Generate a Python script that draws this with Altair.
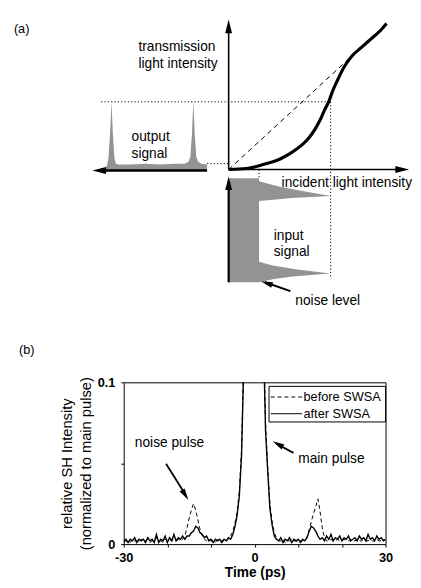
import altair as alt
import pandas as pd

# ---------------- panel (b) data ----------------
time_ps = [
    -30.0, -29.5, -29.0, -28.5, -28.0, -27.5, -27.0, -26.5, -26.0, -25.5,
    -25.0, -24.5, -24.0, -23.5, -23.0, -22.5, -22.0, -21.5, -21.0, -20.5,
    -20.0, -19.5, -19.0, -18.5, -18.0, -17.5, -17.0, -16.5, -16.0, -15.5,
    -15.0, -14.5, -14.0, -13.5, -13.0, -12.5, -12.0, -11.5, -11.0, -10.5,
    -10.0, -9.5, -9.0, -8.5, -8.0, -7.5, -7.0, -6.5, -6.0, -5.5,
    -5.0, -4.5, -4.0, -3.5, -3.0, -2.5, -2.0, -1.5, -1.0, -0.5,
    0.0, 0.5, 1.0, 1.5, 2.0, 2.5, 3.0, 3.5, 4.0, 4.5,
    5.0, 5.5, 6.0, 6.5, 7.0, 7.5, 8.0, 8.5, 9.0, 9.5,
    10.0, 10.5, 11.0, 11.5, 12.0, 12.5, 13.0, 13.5, 14.0, 14.5,
    15.0, 15.5, 16.0, 16.5, 17.0, 17.5, 18.0, 18.5, 19.0, 19.5,
    20.0, 20.5, 21.0, 21.5, 22.0, 22.5, 23.0, 23.5, 24.0, 24.5,
    25.0, 25.5, 26.0, 26.5, 27.0, 27.5, 28.0, 28.5, 29.0, 29.5,
    30.0,
]
after_swsa = [
    0.002, 0.003, 0.001, 0.003, 0.002, 0.004, 0.001, 0.003, 0.002, 0.003,
    0.001, 0.004, 0.002, 0.003, 0.001, 0.006, 0.001, 0.003, 0.002, 0.005,
    0.001, 0.004, 0.002, 0.006, 0.002, 0.004, 0.003, 0.005, 0.003, 0.005,
    0.005, 0.007, 0.008, 0.011, 0.010, 0.007, 0.006, 0.004, 0.005, 0.002,
    0.003, 0.001, 0.003, 0.002, 0.003, 0.001, 0.003, 0.002, 0.004, 0.003,
    0.006, 0.011, 0.018, 0.030, 0.055, 0.110, 0.250, 0.450, 0.700, 0.920,
    1.000, 0.900, 0.650, 0.300, 0.130, 0.070, 0.045, 0.022, 0.012, 0.005,
    0.003, 0.002, 0.004, 0.001, 0.003, 0.002, 0.004, 0.001, 0.003, 0.002,
    0.003, 0.001, 0.003, 0.002, 0.004, 0.008, 0.011, 0.010, 0.008, 0.005,
    0.003, 0.004, 0.002, 0.005, 0.003, 0.006, 0.002, 0.004, 0.003, 0.005,
    0.002, 0.004, 0.003, 0.005, 0.002, 0.003, 0.004, 0.002, 0.005, 0.003,
    0.004, 0.002, 0.006, 0.003, 0.004, 0.002, 0.005, 0.003, 0.004, 0.002,
    0.003,
]
before_swsa = [
    0.001, 0.002, 0.002, 0.001, 0.003, 0.002, 0.002, 0.001, 0.003, 0.002,
    0.002, 0.003, 0.001, 0.002, 0.002, 0.004, 0.002, 0.002, 0.001, 0.003,
    0.002, 0.002, 0.003, 0.002, 0.002, 0.003, 0.002, 0.003, 0.005, 0.010,
    0.016, 0.021, 0.025, 0.021, 0.015, 0.009, 0.005, 0.003, 0.002, 0.003,
    0.002, 0.002, 0.001, 0.003, 0.002, 0.002, 0.003, 0.002, 0.003, 0.005,
    0.008, 0.013, 0.020, 0.033, 0.058, 0.115, 0.260, 0.470, 0.720, 0.930,
    1.000, 0.910, 0.660, 0.310, 0.135, 0.075, 0.048, 0.025, 0.014, 0.007,
    0.004, 0.002, 0.002, 0.003, 0.001, 0.002, 0.002, 0.003, 0.002, 0.002,
    0.001, 0.002, 0.002, 0.003, 0.004, 0.009, 0.014, 0.019, 0.023, 0.028,
    0.020, 0.010, 0.004, 0.002, 0.002, 0.003, 0.002, 0.002, 0.003, 0.002,
    0.002, 0.003, 0.002, 0.002, 0.003, 0.002, 0.002, 0.003, 0.002, 0.002,
    0.003, 0.002, 0.002, 0.003, 0.002, 0.002, 0.003, 0.002, 0.002, 0.003,
    0.002,
]
x_tick_values = [-30, -20, -10, 0, 10, 20, 30]
y_tick_values = [0, 0.05, 0.1]
legend_labels = ["before SWSA", "after SWSA"]

# ---------------- panel (a) schematic data (arbitrary units) ----------------
curve_x = [0, 18, 35, 53, 68, 80, 88, 94, 98, 102, 106, 111, 118, 126, 136, 145, 154, 161]
curve_y = [0, 1, 5, 11, 20, 30, 41, 52, 61, 69, 80, 91, 105, 116, 125, 133, 141, 149]
linear_x = [0, 126]
linear_y = [0, 116]
out_x = [-127, -124, -122.5, -121, -119.5, -118, -116.5, -115, -112, -100, -85, -70,
         -55, -45, -41, -39, -37.5, -36, -34.5, -33, -31, -28, -22]
out_y = [0, 4, 12, 35, 69, 35, 12, 6, 5, 5, 6, 5, 6, 6, 8, 13, 35, 69, 35, 13, 8, 6, 5]
in_t = [-9, -12, -17, -22, -27, -29, -32, -60, -94, -98, -102, -106, -109, -112, -115]
in_v = [31, 31, 50, 75, 104, 65, 31, 31, 31, 45, 70, 104, 65, 45, 31]

FONT = "Liberation Sans"
GRAY = "#939393"

# ================= panel (a) =================
xa = alt.X("x:Q", scale=alt.Scale(domain=[-107, 160], nice=False, zero=False), axis=None)
ya = alt.Y("y:Q", scale=alt.Scale(domain=[-137, 153], nice=False, zero=False), axis=None)

out_df = pd.DataFrame({"x": out_x, "y": out_y, "y2": [-1] * len(out_x)})
output_area = alt.Chart(out_df).mark_area(color=GRAY, orient="vertical").encode(
    x=xa, y=ya, y2="y2:Q")

in_df = pd.DataFrame({"y": in_t, "x": in_v, "x2": [0] * len(in_t)})
input_area = alt.Chart(in_df).mark_area(color=GRAY, orient="horizontal").encode(
    y=ya, x=xa, x2="x2:Q")

dotted_df = pd.DataFrame({
    "x": [-130, 104, -22, 0, 104, 104, 31, 31],
    "y": [69, 69, 6, 6, 69, -109, 0, -10],
    "seg": ["a", "a", "b", "b", "c", "c", "d", "d"],
})
dotted = alt.Chart(dotted_df).mark_line(color="black", strokeWidth=1, strokeDash=[1.2, 2.2]).encode(
    x=xa, y=ya, detail="seg:N")

lin_df = pd.DataFrame({"x": linear_x, "y": linear_y})
linear = alt.Chart(lin_df).mark_line(color="black", strokeWidth=1, strokeDash=[5, 4]).encode(x=xa, y=ya)

curve_df = pd.DataFrame({"x": curve_x, "y": curve_y})
curve = alt.Chart(curve_df).mark_line(color="black", strokeWidth=3.2, interpolate="monotone").encode(
    x=xa, y=ya)

axes_df = pd.DataFrame({
    "x": [0, 0, 0, 178, -22, -133, 0, 0, 63, 37],
    "y": [0, 147, 0, 0, -1, -1, -115, -13, -124, -115],
    "seg": ["up", "up", "right", "right", "left", "left", "in", "in", "noise", "noise"],
    "w": [1.6, 1.6, 1.6, 1.6, 2.6, 2.6, 2.2, 2.2, 2.0, 2.0],
})
axes_lines = alt.Chart(axes_df).mark_line(color="black").encode(
    x=xa, y=ya, detail="seg:N",
    strokeWidth=alt.StrokeWidth("w:Q", scale=None, legend=None))

ARROW = "M0,-1L0.5,1L-0.5,1Z"
heads_df = pd.DataFrame({
    "x": [0, 177, -132, 0, 38.7],
    "y": [146, 0, -1, -14, -115.9],
    "ang": [0, 90, 270, 0, 288.4],
    "sz": [196, 196, 196, 196, 144],
})
heads = alt.Chart(heads_df).mark_point(shape=ARROW, filled=True, color="black", opacity=1).encode(
    x=xa, y=ya,
    angle=alt.Angle("ang:Q", scale=None),
    size=alt.Size("sz:Q", scale=None, legend=None))

text_a_df = pd.DataFrame({
    "x": [-219, -92, -92, -99, -99, 54, 46, 46, 68],
    "y": [143, 125, 108, 33, 16, -14, -68, -84, -134],
    "label": ["(a)", "transmission", "light intensity", "output", "signal",
              "incident light intensity", "input", "signal", "noise level"],
    "fs": [13, 14, 14, 14, 14, 14, 14, 14, 14],
})
text_a = alt.Chart(text_a_df).mark_text(align="left", baseline="middle", font=FONT, color="black").encode(
    x=xa, y=ya, text="label:N", size=alt.Size("fs:Q", scale=None, legend=None))

chart_a = alt.layer(output_area, input_area, dotted, linear, curve, axes_lines, heads, text_a).properties(
    width=267, height=290)

# ================= panel (b) =================
tscale = alt.Scale(domain=[-30, 30], nice=False, zero=False)
vscale = alt.Scale(domain=[0, 0.1], nice=False, zero=False)
xb = alt.X("t:Q", scale=tscale,
           axis=alt.Axis(values=x_tick_values, title="Time (ps)",
                         labelExpr="datum.value == -30 ? '-30' : (datum.value == 0 ? '0' : (datum.value == 30 ? '30' : ''))",
                         grid=False, domain=False, ticks=True, tickSize=3, tickColor="black",
                         labelFont=FONT, labelFontSize=13, labelFontWeight="bold", labelColor="black",
                         labelPadding=5, labelFlush=False,
                         titleFont=FONT, titleFontSize=14, titleFontWeight="bold", titleColor="black",
                         titlePadding=1))
yb = alt.Y("v:Q", scale=vscale,
           axis=alt.Axis(values=y_tick_values,
                         title=["relative SH Intensity", "(normalized to main pulse)"],
                         labelExpr="datum.value == 0 ? '0' : (datum.value == 0.1 ? '0.1' : '')",
                         grid=False, domain=False, ticks=True, tickSize=3, tickColor="black",
                         labelFont=FONT, labelFontSize=13, labelFontWeight="bold", labelColor="black",
                         labelPadding=6, labelFlush=False,
                         titleFont=FONT, titleFontSize=15, titleFontWeight="normal", titleColor="black",
                         titleLineHeight=19, titlePadding=4))

before_df = pd.DataFrame({"t": time_ps, "v": before_swsa})
after_df = pd.DataFrame({"t": time_ps, "v": after_swsa})
before_line = alt.Chart(before_df).mark_line(color="black", strokeWidth=1, strokeDash=[4, 3], clip=True).encode(
    x=xb, y=yb)
after_line = alt.Chart(after_df).mark_line(color="black", strokeWidth=1.4, clip=True).encode(
    x=xb, y=yb)

box_df = pd.DataFrame({"t": [3.3], "t2": [30], "v": [0.0975], "v2": [0.0755]})
legend_box = alt.Chart(box_df).mark_rect(fill="white", stroke="black", strokeWidth=1).encode(
    x=xb, x2="t2:Q", y=yb, y2="v2:Q")

leg_line_df = pd.DataFrame({"t": [3.7, 3.7], "t2": [10.9, 10.9], "v": [0.0909, 0.0806]})
leg_dash = alt.Chart(leg_line_df.iloc[[0]]).mark_rule(color="black", strokeWidth=1, strokeDash=[4, 3]).encode(
    x=xb, x2="t2:Q", y=yb)
leg_solid = alt.Chart(leg_line_df.iloc[[1]]).mark_rule(color="black", strokeWidth=1).encode(
    x=xb, x2="t2:Q", y=yb)
leg_text_df = pd.DataFrame({"t": [11.2, 11.2], "v": [0.0909, 0.0806], "label": legend_labels})
leg_text = alt.Chart(leg_text_df).mark_text(align="left", baseline="middle", font=FONT, fontSize=13,
                                            color="black").encode(x=xb, y=yb, text="label:N")

ann_c_df = pd.DataFrame({"t": [-19.5], "v": [0.0624], "label": ["noise pulse"]})
ann_center = alt.Chart(ann_c_df).mark_text(align="center", baseline="middle", font=FONT,
                                           fontSize=14, color="black").encode(x=xb, y=yb, text="label:N")
ann_l_df = pd.DataFrame({"t": [10.0, -54.0], "v": [0.0527, 0.12], "label": ["main pulse", "(b)"],
                         "fs": [14, 13]})
ann_left = alt.Chart(ann_l_df).mark_text(align="left", baseline="middle", font=FONT, color="black").encode(
    x=xb, y=yb, text="label:N", size=alt.Size("fs:Q", scale=None, legend=None))

shaft_df = pd.DataFrame({"t": [-20.3, -16.2, 8.9, 5.0], "v": [0.0497, 0.032, 0.0564, 0.0620],
                         "seg": ["n", "n", "m", "m"]})
shafts = alt.Chart(shaft_df).mark_line(color="black", strokeWidth=1.8).encode(
    x=xb, y=yb, detail="seg:N")
bhead_df = pd.DataFrame({"t": [-15.9, 5.33], "v": [0.0304, 0.0618], "ang": [148.1, 299.7]})
bheads = alt.Chart(bhead_df).mark_point(shape=ARROW, filled=True, color="black", opacity=1, size=144).encode(
    x=xb, y=yb, angle=alt.Angle("ang:Q", scale=None))

chart_b = alt.layer(before_line, after_line, legend_box, leg_dash, leg_solid, leg_text,
                    ann_center, ann_left, shafts, bheads).properties(
    width=267, height=165, view=alt.ViewBackground(stroke="black", strokeWidth=1))

chart = alt.vconcat(chart_a, chart_b, spacing=80, bounds="flush").properties(
    padding={"left": 5, "top": 3, "right": 0, "bottom": 0}
).configure(font=FONT).configure_view(stroke="transparent")

chart.save("out.html", embed_options={"renderer": "svg", "actions": False})
